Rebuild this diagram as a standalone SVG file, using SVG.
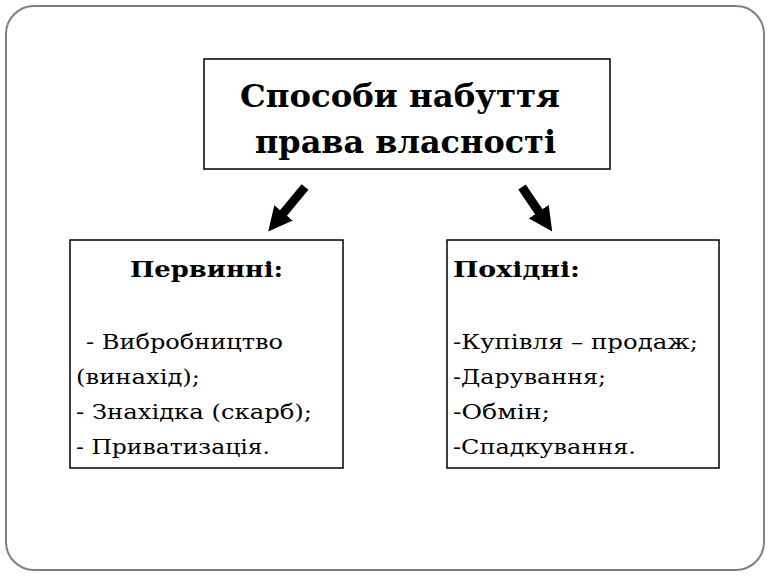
<svg xmlns="http://www.w3.org/2000/svg" width="770" height="577" viewBox="0 0 770 577">
<style>
.b{fill:#fff;stroke:#000;stroke-width:1.5}
text{font-family:"DejaVu Serif","Liberation Serif",serif;fill:#000}
.h{font-size:32px;font-weight:bold}
.s{font-size:21px}
.sb{font-size:23px;font-weight:bold}
.a{stroke:#000;stroke-width:9;fill:none}
</style>
<defs><marker id="m" markerUnits="userSpaceOnUse" markerWidth="24" markerHeight="24" refX="4" refY="12" orient="auto" viewBox="0 0 24 24"><path d="M0,0 L24,12 L0,24z" fill="#000"/></marker></defs>
<rect x="6" y="6" width="758" height="564" rx="28" fill="#fff" stroke="#808080" stroke-width="2"/>
<g id="title"><rect class="b" x="204" y="59" width="406" height="110"/>
<text class="h" x="240" y="107" textLength="320" lengthAdjust="spacingAndGlyphs">Способи набуття</text>
<text class="h" x="255" y="153" textLength="301" lengthAdjust="spacingAndGlyphs">права власності</text></g>
<g id="connectors">
<line class="a" x1="305" y1="187" x2="281" y2="216" marker-end="url(#m)"/>
<line class="a" x1="522" y1="187" x2="541" y2="215" marker-end="url(#m)"/>
</g>
<g id="left"><rect class="b" x="70" y="240" width="273" height="228"/>
<text class="sb" x="130" y="277" textLength="153" lengthAdjust="spacingAndGlyphs">Первинні:</text>
<text class="s" x="86" y="349" textLength="197" lengthAdjust="spacingAndGlyphs">- Вибробництво</text>
<text class="s" x="76" y="384" textLength="124" lengthAdjust="spacingAndGlyphs">(винахід);</text>
<text class="s" x="76" y="419" textLength="236" lengthAdjust="spacingAndGlyphs">- Знахідка (скарб);</text>
<text class="s" x="76" y="454" textLength="194" lengthAdjust="spacingAndGlyphs">- Приватизація.</text></g>
<g id="right"><rect class="b" x="447" y="240" width="272" height="228"/>
<text class="sb" x="453" y="277" textLength="127" lengthAdjust="spacingAndGlyphs">Похідні:</text>
<text class="s" x="453" y="349" textLength="245" lengthAdjust="spacingAndGlyphs">-Купівля – продаж;</text>
<text class="s" x="453" y="384" textLength="153" lengthAdjust="spacingAndGlyphs">-Дарування;</text>
<text class="s" x="453" y="419" textLength="97" lengthAdjust="spacingAndGlyphs">-Обмін;</text>
<text class="s" x="453" y="454" textLength="183" lengthAdjust="spacingAndGlyphs">-Спадкування.</text></g>
</svg>
